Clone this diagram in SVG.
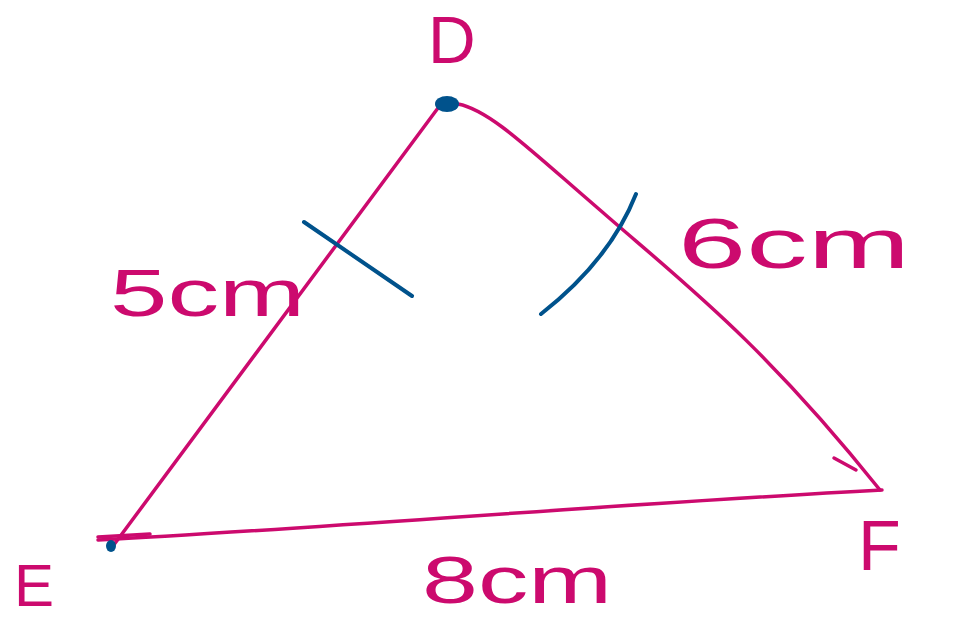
<svg xmlns="http://www.w3.org/2000/svg" width="959" height="622" viewBox="0 0 959 622">
<style>
.p{fill:none;stroke:#cc0a6e;stroke-width:3.5;stroke-linecap:round;stroke-linejoin:round}
.b{fill:none;stroke:#00528c;stroke-width:4;stroke-linecap:round}
.t{fill:#cc0a6e;font-family:"Liberation Sans",Arial,sans-serif;font-weight:normal}
</style>
<rect width="959" height="622" fill="#ffffff"/>
<g id="connectors">
<path class="p" d="M438,108 L113,546"/>
<path class="p" d="M458,104 C490,110 530,150 600,210 C680,280 760,340 880,490"/>
<path class="p" d="M834,458 L856,470"/>
<path class="p" d="M98,540 C300,530 600,505 882,490"/>
<path class="p" d="M98,537 L150,534"/>
</g>
<g id="node-D">
<ellipse cx="447" cy="104" rx="12" ry="8" fill="#00528c"/>
<text class="t" x="428" y="63" font-size="66">D</text>
</g>
<g id="node-E">
<ellipse cx="111" cy="546" rx="5" ry="6" fill="#00528c"/>
<text class="t" x="14" y="606" font-size="60">E</text>
</g>
<g id="node-F">
<text class="t" x="858" y="570" font-size="70">F</text>
</g>
<g id="ticks">
<path class="b" d="M304,222 L412,296"/>
<path class="b" d="M541,314 Q610,260 636,194"/>
</g>
<g id="labels">
<text class="t" x="110" y="316" font-size="66" textLength="195" lengthAdjust="spacingAndGlyphs">5cm</text>
<text class="t" x="678" y="268" font-size="70" textLength="232" lengthAdjust="spacingAndGlyphs">6cm</text>
<text class="t" x="422" y="603" font-size="66" textLength="190" lengthAdjust="spacingAndGlyphs">8cm</text>
</g>
</svg>
